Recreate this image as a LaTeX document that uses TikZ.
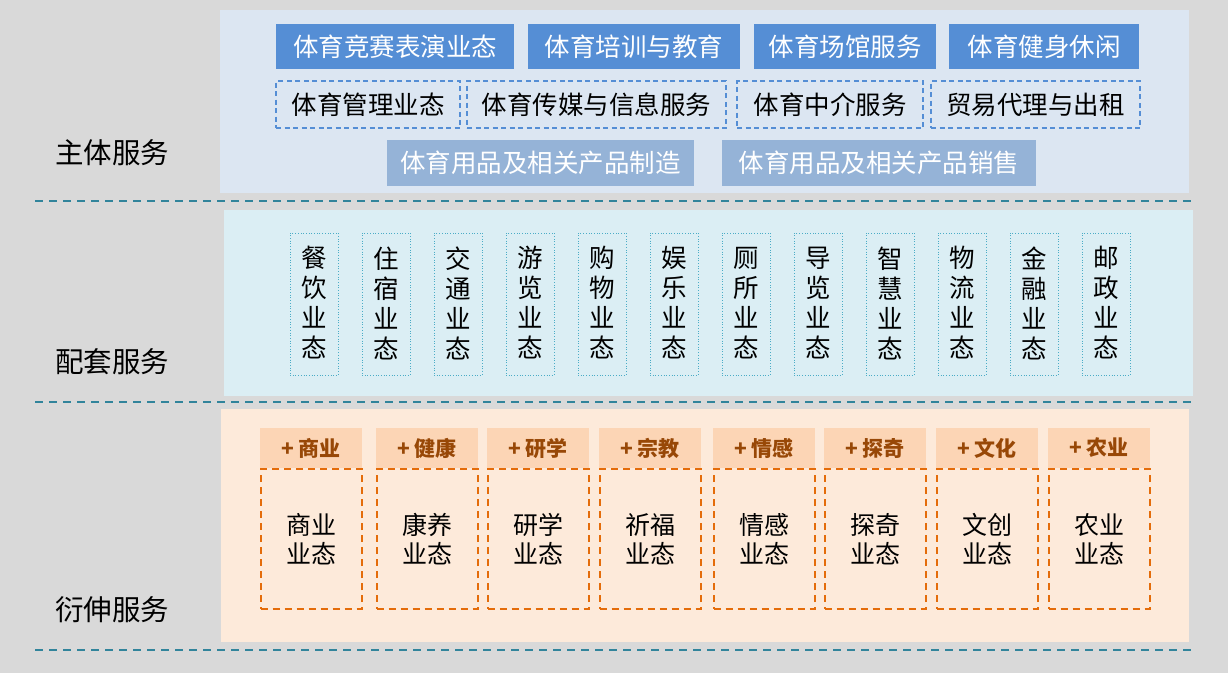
\documentclass[tikz,border=0pt]{standalone}
\usepackage{fontspec}
\setmainfont{Noto Sans CJK SC}
\newfontfamily\cjk{Noto Sans CJK SC}
\definecolor{bgc}{HTML}{D9D9D9}
\definecolor{topbg}{HTML}{DCE6F2}
\definecolor{midbg}{HTML}{DBEEF4}
\definecolor{botbg}{HTML}{FDEADA}
\definecolor{blue1}{HTML}{558ED5}
\definecolor{blue2}{HTML}{95B3D7}
\definecolor{teal1}{HTML}{31849B}
\definecolor{cyan1}{HTML}{4BACC6}
\definecolor{peach}{HTML}{FCD5B5}
\definecolor{brown1}{HTML}{984807}
\definecolor{orange1}{HTML}{E46C0A}
\tikzset{
  sep/.style={draw=teal1, line width=2pt, dash pattern=on 8pt off 6pt},
  secl/.style={font=\cjk\fontsize{28.5}{32}\selectfont, text=black, anchor=west, inner sep=0pt},
  solidbox/.style={fill=blue1, draw=none, text=white, font=\cjk\fontsize{25.5}{28}\selectfont, inner sep=0pt},
  dashbox/.style={draw=blue1, line width=1.3pt, dash pattern=on 5pt off 3.5pt, text=black, font=\cjk\fontsize{25.5}{28}\selectfont, inner sep=0pt},
  lightbox/.style={fill=blue2, draw=none, text=white, font=\cjk\fontsize{25.5}{28}\selectfont, inner sep=0pt},
  vbox/.style={draw=cyan1, line width=0.7pt, dotted, inner sep=0pt, minimum width=48pt, minimum height=142pt},
  vtext/.style={font=\cjk\fontsize{25.5}{30}\selectfont, align=center, inner sep=0pt, text=black},
  hdr/.style={fill=peach, draw=none, text=brown1, font=\cjk\bfseries\fontsize{21}{24}\selectfont, inner sep=0pt, minimum width=102pt, minimum height=40pt},
  obox/.style={draw=orange1, line width=2pt, dash pattern=on 7pt off 5pt, inner sep=0pt, minimum width=101pt, minimum height=140pt, font=\cjk\fontsize{25}{28.5}\selectfont, align=center, text=black}
}
\begin{document}
\begin{tikzpicture}[x=1pt, y=-1pt]
\useasboundingbox (0,0) rectangle (1228,673);
\fill[bgc] (0,0) rectangle (1228,673);
% panels
\fill[topbg] (220,10) rectangle (1189,193);
\fill[midbg] (224,210) rectangle (1193,396);
\fill[botbg] (221,409) rectangle (1189,642);
% separators
\coordinate (s1a) at (35,201); \coordinate (s1b) at (1191,201);
\coordinate (s2a) at (35,402); \coordinate (s2b) at (1191,402);
\coordinate (s3a) at (35,650); \coordinate (s3b) at (1191,650);
\draw[sep] (s1a) -- (s1b);
\draw[sep] (s2a) -- (s2b);
\draw[sep] (s3a) -- (s3b);
% section labels
\node[secl] (L1) at (55,153) {主体服务};
\node[secl] (L2) at (55,362) {配套服务};
\node[secl] (L3) at (55,610) {衍伸服务};
% top row
\node[solidbox, minimum width=238pt, minimum height=45pt] (t1) at (395,46.5) {体育竞赛表演业态};
\node[solidbox, minimum width=212pt, minimum height=45pt] (t2) at (634,46.5) {体育培训与教育};
\node[solidbox, minimum width=182pt, minimum height=45pt] (t3) at (845,46.5) {体育场馆服务};
\node[solidbox, minimum width=190pt, minimum height=45pt] (t4) at (1044,46.5) {体育健身休闲};
% second row
\node[dashbox, minimum width=184pt, minimum height=47pt] (d1) at (368,104.5) {体育管理业态};
\node[dashbox, minimum width=259pt, minimum height=47pt] (d2) at (596.5,104.5) {体育传媒与信息服务};
\node[dashbox, minimum width=186pt, minimum height=47pt] (d3) at (830,104.5) {体育中介服务};
\node[dashbox, minimum width=209pt, minimum height=47pt] (d4) at (1035.5,104.5) {贸易代理与出租};
% third row
\node[lightbox, minimum width=307pt, minimum height=46pt] (p1) at (540.5,163) {体育用品及相关产品制造};
\node[lightbox, minimum width=314pt, minimum height=46pt] (p2) at (879,163) {体育用品及相关产品销售};
% middle vertical boxes
\foreach \i/\a/\b in {0/餐/饮,1/住/宿,2/交/通,3/游/览,4/购/物,5/娱/乐,6/厕/所,7/导/览,8/智/慧,9/物/流,10/金/融,11/邮/政}{
  \node[vbox] (v\i) at ({314+72*\i},304) {};
  \node[vtext] (vt\i) at ({314+72*\i},303) {\a\\\b\\业\\态};
}
% bottom
\foreach \i/\x/\h/\t in {0/311/商业/商业,1/427/健康/康养,2/538/研学/研学,3/650/宗教/祈福,4/764/情感/情感,5/875/探奇/探奇,6/987/文化/文创,7/1099/农业/农业}{
  \node[hdr] (h\i) at (\x,448) {+\,\h};
  \node[obox] (o\i) at (\x,539) {\t\\业态};
}
\end{tikzpicture}
\end{document}
